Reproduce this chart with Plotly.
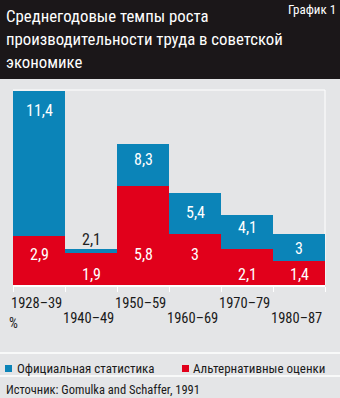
import plotly.graph_objects as go

categories = ["1928–39", "1940–49", "1950–59", "1960–69", "1970–79", "1980–87"]
official = [11.4, 2.1, 8.3, 5.4, 4.1, 3.0]
alternative = [2.9, 1.9, 5.8, 3.0, 2.1, 1.4]
official_labels = ["11,4", "2,1", "8,3", "5,4", "4,1", "3"]
alternative_labels = ["2,9", "1,9", "5,8", "3", "2,1", "1,4"]

# styles / layout helpers
BLUE = "#0b84b8"
RED = "#e1001b"
BG = "#e4e5e7"
HEAD = "#1b1719"
FONT = "Roboto Condensed, DejaVu Sans Condensed, sans-serif"
blue_shift = [-19, 10, -16, -19, -12, -14]
blue_color = ["white", "#222222", "white", "white", "white", "white"]
red_level = [1.8, 0.6, 1.8, 1.8, 0.6, 0.6]
label_stagger = [0, 1, 0, 1, 0, 1]

W, H = 340, 398
L, R, T, B = 13, 15, 90, 113
ph = H - T - B
pw = W - L - R


def px(x):
    return (x - L) / pw


def py(y):
    return (H - B - y) / ph


xs = list(range(len(categories)))
fig = go.Figure()
fig.add_bar(x=xs, y=official, marker=dict(color=BLUE, line=dict(width=0)), width=1,
            name="Официальная статистика", hoverinfo="skip")
fig.add_bar(x=xs, y=alternative, marker=dict(color=RED, line=dict(width=0)), width=1,
            name="Альтернативные оценки", hoverinfo="skip")

ann = []
for i in xs:
    ann.append(dict(x=i, y=official[i], yshift=blue_shift[i], text=official_labels[i],
                    showarrow=False, font=dict(color=blue_color[i], size=16, family=FONT)))
    ann.append(dict(x=i, y=red_level[i], text=alternative_labels[i], showarrow=False,
                    font=dict(color="white", size=16, family=FONT)))
    ann.append(dict(x=i - 0.05, y=py(303 + 15 * label_stagger[i]), yref="paper",
                    yanchor="middle", text=categories[i], showarrow=False,
                    font=dict(color="#1a1a1a", size=14.5, family=FONT)))
ann.append(dict(x=px(7), y=py(323), xref="paper", yref="paper", xanchor="left",
                yanchor="middle", text="%", showarrow=False,
                font=dict(color="#1a1a1a", size=14, family=FONT)))
# title
for j, line in enumerate(["Среднегодовые темпы роста",
                          "производительности труда в советской",
                          "экономике"]):
    ann.append(dict(x=px(4), y=py(15.5 + 23 * j), xref="paper", yref="paper",
                    xanchor="left", yanchor="middle", text=line, showarrow=False,
                    font=dict(color="white", size=16.8, family=FONT)))
ann.append(dict(x=px(338), y=py(10), xref="paper", yref="paper", xanchor="right",
                yanchor="middle", text="График 1", showarrow=False,
                font=dict(color="white", size=13, family=FONT)))
# legend
ann.append(dict(x=px(15), y=py(368), xref="paper", yref="paper", xanchor="left",
                yanchor="middle", text="Официальная статистика", showarrow=False,
                font=dict(color="#1a1a1a", size=13, family=FONT)))
ann.append(dict(x=px(191), y=py(368), xref="paper", yref="paper", xanchor="left",
                yanchor="middle", text="Альтернативные оценки", showarrow=False,
                font=dict(color="#1a1a1a", size=13, family=FONT)))
ann.append(dict(x=px(4), y=py(389), xref="paper", yref="paper", xanchor="left",
                yanchor="middle", text="Источник: Gomulka and Schaffer, 1991",
                showarrow=False, font=dict(color="#1a1a1a", size=12.5, family=FONT)))

shapes = [
    dict(type="rect", xref="paper", yref="paper", x0=px(0), x1=px(W), y0=py(79), y1=py(0),
         fillcolor=HEAD, line=dict(width=0), layer="below"),
    dict(type="line", xref="paper", yref="paper", x0=px(0), x1=px(W), y0=py(353), y1=py(353),
         line=dict(color="white", width=1.5)),
    dict(type="line", xref="paper", yref="paper", x0=px(0), x1=px(W), y0=py(376), y1=py(376),
         line=dict(color="white", width=1.5)),
    dict(type="rect", xref="paper", yref="paper", x0=px(5), x1=px(12), y0=py(372), y1=py(365),
         fillcolor=BLUE, line=dict(width=0)),
    dict(type="rect", xref="paper", yref="paper", x0=px(182), x1=px(189), y0=py(372), y1=py(365),
         fillcolor=RED, line=dict(width=0)),
    # top and right frame lines
    dict(type="line", xref="paper", yref="paper", x0=0, x1=1, y0=1, y1=1,
         line=dict(color="white", width=1), layer="below"),
    dict(type="line", xref="paper", yref="paper", x0=1, x1=1, y0=0, y1=1,
         line=dict(color="white", width=1), layer="below"),
]

fig.update_layout(
    width=W, height=H, margin=dict(l=L, r=R, t=T, b=B),
    paper_bgcolor=BG, plot_bgcolor=BG,
    barmode="overlay", bargap=0, showlegend=False,
    annotations=ann, shapes=shapes,
    xaxis=dict(range=[-0.5, len(categories) - 0.5], tickvals=[i - 0.5 for i in range(len(categories) + 1)],
               ticktext=[""] * (len(categories) + 1), ticks="outside", ticklen=5,
               tickcolor="white", tickwidth=1, showline=True, linecolor="white", linewidth=1.5,
               showgrid=False, zeroline=False, fixedrange=True),
    yaxis=dict(range=[0, 11.47], showticklabels=False, showgrid=False, zeroline=False,
               ticks="", fixedrange=True),
)
fig.write_html("out.html", config={"displayModeBar": False})
